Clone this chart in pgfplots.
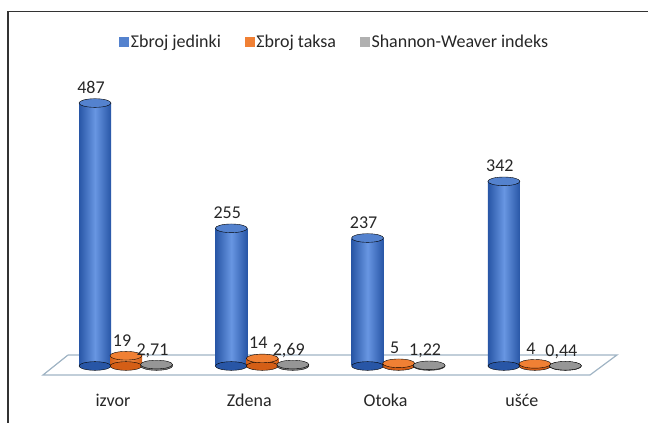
\documentclass[border=0pt]{standalone}
\usepackage{fontspec}
\setmainfont{Carlito}
\usepackage{pgfplots}
\pgfplotsset{compat=1.18}
\definecolor{bD}{RGB}{40,86,166}
\definecolor{bL}{RGB}{104,150,226}
\definecolor{bC}{RGB}{84,130,206}
\definecolor{oD}{RGB}{212,94,22}
\definecolor{oL}{RGB}{250,152,82}
\definecolor{oC}{RGB}{240,128,52}
\definecolor{gD}{RGB}{122,122,122}
\definecolor{gL}{RGB}{176,176,176}
\definecolor{gC}{RGB}{150,150,150}
\definecolor{floorc}{RGB}{160,180,196}
% #1 x, #2 value, #3 bar shift, #4 dark, #5 light, #6 cap colour
\newcommand{\cyl}[6]{%
\addplot[forget plot, only marks, mark=*, mark size=16pt,
  mark options={xshift=#3, yscale=0.27, draw=none, fill=#4}]
  coordinates {(#1,0)};
\addplot[forget plot, ybar, bar width=32pt, bar shift=#3, draw=none,
  left color=#4, right color=#4, middle color=#5]
  coordinates {(#1,#2)};
\addplot[forget plot, only marks, mark=*, mark size=16pt,
  mark options={xshift=#3, yscale=0.27, draw=none, fill=#6},
  nodes near coords,
  nodes near coords style={anchor=base, xshift=-4pt, yshift=9.5pt,
    inner sep=0pt, font=\fontsize{18}{22}\selectfont, text=black!85}]
  coordinates {(#1,#2)};
}
\begin{document}
\begin{tikzpicture}
\path[use as bounding box] (0,0) rectangle (648pt,423pt);
\draw[line width=1.5pt, black!80] (8pt,0pt) -- (8pt,411.5pt) -- (648pt,411.5pt);
\begin{axis}[at={(57.85pt,57pt)}, anchor=south west, scale only axis,
  width=545.2pt, height=270pt, xmin=-0.5, xmax=3.5, ymin=0, ymax=500,
  clip=false, axis line style={draw=none}, tick style={draw=none},
  ytick=\empty, xtick={0,1,2,3}, xticklabels={izvor,Zdena,Otoka,ušće},
  xticklabel style={anchor=base, yshift=-41pt, xshift=-13pt,
    font=\fontsize{18}{22}\selectfont, text=black!85},
  legend style={at={(0.508,1.2)}, anchor=center, draw=none, fill=none,
    legend columns=-1, font=\fontsize{18}{22}\selectfont, text=black!85,
    /tikz/every even column/.append style={column sep=22pt}},
  /pgf/number format/assume math mode=true,
  /pgf/number format/use comma,
]
\addplot[draw=floorc, line width=1.2pt, forget plot] coordinates
  {(-0.4255,20.4) (3.602,20.4) (3.404,-16.7) (-0.609,-16.7) (-0.4255,20.4)};
\addlegendimage{legend image code/.code={\fill[bC] (0pt,-4.5pt) rectangle (9pt,4.5pt);}}
\addlegendentry{Σbroj jedinki}
\addlegendimage{legend image code/.code={\fill[oC] (0pt,-4.5pt) rectangle (9pt,4.5pt);}}
\addlegendentry{Σbroj taksa}
\addlegendimage{legend image code/.code={\fill[gL] (0pt,-4.5pt) rectangle (9pt,4.5pt);}}
\addlegendentry{Shannon-Weaver indeks}
% izvor
\cyl{0}{487}{-31pt}{bD}{bL}{bC}
\cyl{0}{19}{0pt}{oD}{oL}{oC}
\cyl{0}{2.71}{30.5pt}{gD}{gL}{gC}
% Zdena
\cyl{1}{255}{-31pt}{bD}{bL}{bC}
\cyl{1}{14}{0pt}{oD}{oL}{oC}
\cyl{1}{2.69}{30.5pt}{gD}{gL}{gC}
% Otoka
\cyl{2}{237}{-31pt}{bD}{bL}{bC}
\cyl{2}{5}{0pt}{oD}{oL}{oC}
\cyl{2}{1.22}{30.5pt}{gD}{gL}{gC}
% ušće
\cyl{3}{342}{-31pt}{bD}{bL}{bC}
\cyl{3}{4}{0pt}{oD}{oL}{oC}
\cyl{3}{0.44}{30.5pt}{gD}{gL}{gC}
\end{axis}
\end{tikzpicture}
\end{document}
